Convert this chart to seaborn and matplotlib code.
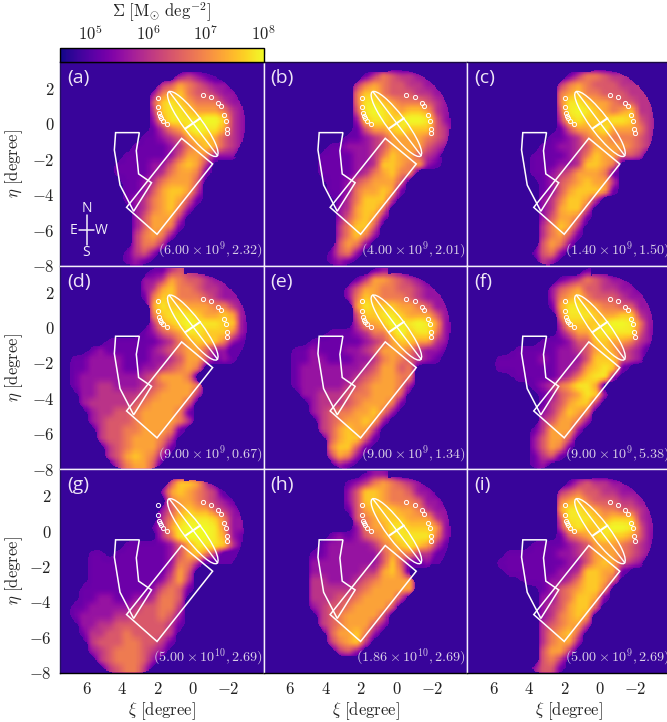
import numpy as np
import pandas as pd
import matplotlib
matplotlib.use("Agg")
import matplotlib.pyplot as plt
from matplotlib.colors import LogNorm
from matplotlib.patches import Ellipse, Polygon
from matplotlib.ticker import LogLocator, NullFormatter
from matplotlib.transforms import Affine2D
import seaborn as sns

# ---- data -----------------------------------------------------------------
# Every row: "<first column> <density levels>", 0.5 degree cells, top row first
panel_a = ["0 0","13 2321","11 346543221","10 25675443221","10 47876555322","10 378876665321","10 268888997321",
 "10 135689886321","9 112346776432","8 1111235676432","7 1111124665222","6 11112246763","6 11112356651",
 "7 112356664","7 112467763","7 123567641","8 2356752","8 246663","8 246651","8 35652","8 3553","7 1342","7 121"]
panel_b = ["0 0","11 13543322","10 356544332 21","10 57754443322","10 588765554321","10 489876776322","10 278878998421",
 "10 146678777431","9 1123466665431","7 11222346666432","6 111122357664 32","6 1111223776562 1","6 1111235675 5",
 "7 112456664","7 112566761","8 1357773","8 236775","8 246762","8 35774","8 35752","8 4652","7 1452","7 121"]
panel_c = ["0 0","11 13554332","10 35654443331","10 56755444333","10 588766544331","10 489876567332","10 378777887432",
 "10 146678666532","9 1123566555431","8 112234666654 3","7 11112357664 43","7 11122377 65","7 1123466651",
 "8 124567663","8 124677761","8 2357763","8 236774","8 246651","8 35763","8 35641","8 4652","7 1452","8 32"]
panel_d = ["10 1134321","9 223654432 21","9 23675543322 1","9 157755543222","10 687766655321","10 578887667622",
 "10 3678988877 21","9 124568877752 1","5 11111 12356777521","3 1211111 234566 42 2","1 112222111 22346641 21","1 112222112 2345 65",
 "1 12222222 346665","1 1223322 2345666 5","2 223333345666 63","2 23333345666 64","3 233 445666651","3 2344456 66653",
 "4 344556665 1","4 34456665 3","5 34566641","5 3467652","6 35664"]
panel_e = ["12 1221","10 136654321","9 24665544322 1","9 25765554322 2","10 687776654221","10 477887666422",
 "10 366798898 621","7 1112355 7978852 1","5 11111123467766 32","3 1121112234666 5322 1","3 11221112 23565 43 21",
 "3 12222222346645","3 1222222345665 5","3 12222234566652","4 2233345566 64","5 23334566 651","5 234556 6752",
 "6 3456 6762","6 346766 3","7 46774 1","7 57741","7 3652","8 21"]
panel_f = ["13 111","10 123543221","9 2456443322 11","9 25675444322 2","9 16887655442 21","10 588876677322",
 "10 377778998522","10 246688888421","8 111244776653 21","5 1111122 34676432","3 1111121222477743 2",
 "3 11111112236787 1","5 11111235788 2","7 1235688 6","8 124568 72","8 134677 3","8 2357 65","8 34 6652",
 "7 136662","7 24664","7 24651","7 1341","7 12"]
panel_g = ["0 0","12 477631","11 2676543","12 5665432 1","11 24676643 2 1","11 357888752 21","10 1368999852 2",
 "11 3589998 621","7 1111124688873 1","3 11 01111112 46753","3 1111111112553","3 1111111113 64","3 1111111124 63",
 "2 111111112 45 41","2 112211 2235 54","1 1 1222223 445 53","1 12222334445 42","2 2233444444 31","2 133445444 43",
 "3 34445544 31","3 2345554 32","4 345554 2","5 34553"]
panel_h = ["11 1221","9 12356543 21","9 24776554221","9 2477655542 21","9 146777665 3221","10 456777666322",
 "10 2566887776 21","7 12124567888852 1","6 122222356787 63 1","5 112222224 6553 31","5 22222222 47 4112",
 "5 2222223 3675","5 3322234 56666","5 333334566666","5 33344566663","5 2344566664","6 34566664","6 345666 42",
 "7 466 752","7 3567 3","8 342","0 0","0 0"]
panel_i = ["0 0","11 13433221","10 345 44332221","10 567 54443322","10 688765544321","10 488876777322",
 "10 378778998422","10 145678776421","7 11112346665432 1","4 1111112 23466654 32","3 111111 11224676432",
 "4 1111112237766 1","6 111223577 64","8 124 567 75","8 224 577 61","8 234 677 4","8 235 676","8 345 6 63",
 "8 35674","8 35662","8 4663","8 453","7 2441"]
panels = [panel_a, panel_b, panel_c, panel_d, panel_e, panel_f, panel_g, panel_h, panel_i]
# radius of the round western shell in every panel, degrees
shell_radius = [2.95, 3.05, 3.05, 3.05, 3.05, 3.0, 2.85, 3.05, 3.0]
panel_tags = list("abcdefghi")
mass_labels = [r"6.00\times10^{9},2.32", r"4.00\times10^{9},2.01", r"1.40\times10^{9},1.50",
               r"9.00\times10^{9},0.67", r"9.00\times10^{9},1.34", r"9.00\times10^{9},5.38",
               r"5.00\times10^{10},2.69", r"1.86\times10^{10},2.69", r"5.00\times10^{9},2.69"]
# log10 Sigma for every density level of the rows above
level_log_sigma = [4.76, 5.2, 5.6, 6.0, 6.45, 6.85, 7.25, 7.6, 7.85, 8.0]

# overlays, degrees
rect_xi  = [0.63, -1.12, 2.02, 3.74]
rect_eta = [-0.81, -2.26, -6.23, -4.71]
ne_xi  = [4.36, 3.02, 3.19, 3.06, 2.33, 3.34, 4.11, 4.43]
ne_eta = [-0.49, -0.49, -1.51, -2.82, -3.32, -4.93, -3.45, -1.47]
gc_xi  = [1.95, 1.97, 1.91, 1.85, 1.78, 1.68, 1.44, -0.56, -1.03, -1.44, -1.57, -1.78, -1.88, -1.93, -1.95]
gc_eta = [1.48, 0.94, 0.60, 0.45, 0.33, 0.18, 0.01, 1.63, 1.50, 1.18, 0.99, 0.48, 0.18, -0.27, -0.53]
disc_major_xi, disc_major_eta = [1.33, -1.40], [1.83, -1.79]
disc_minor_xi, disc_minor_eta = [0.42, -0.42], [-0.26, 0.32]
disc_semi_major, disc_semi_minor, disc_angle = 2.27, 0.52, 53.0

x_ticks = [-2, 0, 2, 4, 6]
y_ticks = [-8, -6, -4, -2, 0, 2]

# ---- style ----------------------------------------------------------------
sns.set_theme(style="ticks")
plt.rcParams["font.family"] = ["DejaVu Serif"]
plt.rcParams["mathtext.fontset"] = "cm"
FS = 12
cmap = sns.color_palette("plasma", as_cmap=True)
norm = LogNorm(vmin=10 ** 4.48, vmax=1e8)
WHITE = "#f4f0fa"
UP = 8          # drawing cells per grid cell
CELL = 0.5


def parse(rows):
    grid = np.zeros((23, 23))
    for j, row in enumerate(rows):
        head, *rest = row.split(" ")
        digits = "".join(rest)
        start = int(head)
        for n, ch in enumerate(digits):
            if start + n < 23:
                grid[j, start + n] = int(ch)
    return grid


def upsample(grid):
    n = 23 * UP
    old = (np.arange(23) + 0.5) / 23
    new = (np.arange(n) + 0.5) / n
    rows = np.array([np.interp(new, old, r) for r in grid])
    return np.array([np.interp(new, old, c) for c in rows.T]).T


def box(fine, width):
    kernel = np.ones(width) / width
    fine = np.apply_along_axis(lambda v: np.convolve(v, kernel, mode="same"), 0, fine)
    return np.apply_along_axis(lambda v: np.convolve(v, kernel, mode="same"), 1, fine)


def refine(grid, radius):
    levels = box(upsample(grid), UP // 2)
    inside = box(box(upsample((grid > 0).astype(float)), UP), UP) > 0.5
    n = 23 * UP
    centres = (np.arange(n) + 0.5) * CELL / UP
    xi, eta = np.meshgrid(7.5 - centres, 3.5 - centres)
    sector = (xi < 0.5) & (eta > -1.9)
    inside = np.where(sector, np.hypot(xi, eta) < radius, inside)
    levels = np.where(inside, np.maximum(levels, 0.9), 0.0)
    return 10 ** np.interp(levels, np.arange(10), level_log_sigma)


W, H = 667, 722
X0, Y0, SIZE = 60.0, 62.0, 203.6
fig = plt.figure(figsize=(W / 100, H / 100), dpi=100)

mesh = None
for n, rows in enumerate(panels):
    col, row = n % 3, n // 3
    left = X0 + col * SIZE
    top = Y0 + row * SIZE
    ax = fig.add_axes([left / W, 1 - (top + SIZE) / H, SIZE / W, SIZE / H])
    frame = pd.DataFrame(refine(parse(rows), shell_radius[n]))
    sns.heatmap(frame, ax=ax, cmap=cmap, norm=norm, cbar=False, xticklabels=False, yticklabels=False)
    mesh = ax.collections[0]
    mesh.set_transform(Affine2D().scale(-CELL / UP, -CELL / UP).translate(7.5, 3.5) + ax.transData)
    ax.set_xlim(7.5, -4)
    ax.set_ylim(-8, 3.5)

    ax.add_patch(Polygon(np.c_[rect_xi, rect_eta], closed=True, fill=False, ec="white", lw=1.1))
    ax.add_patch(Polygon(np.c_[ne_xi, ne_eta], closed=True, fill=False, ec="white", lw=1.1))
    ax.add_patch(Ellipse((0, 0), 2 * disc_semi_major, 2 * disc_semi_minor, angle=disc_angle,
                         fill=False, ec="white", lw=1.0))
    ax.plot(disc_major_xi, disc_major_eta, color="white", lw=1.0)
    ax.plot(disc_minor_xi, disc_minor_eta, color="white", lw=1.5)
    ax.plot(gc_xi, gc_eta, ls="none", marker="o", ms=3.0, mfc="none", mec="white", mew=0.7)

    ax.set_xticks(x_ticks)
    ax.set_yticks(y_ticks)
    ax.set_xticklabels([f"${v}$" for v in x_ticks] if row == 2 else [], fontsize=FS, color="#222222")
    ax.set_yticklabels([f"${v}$" for v in y_ticks] if col == 0 else [], fontsize=FS, color="#222222")
    ax.tick_params(axis="both", which="major", direction="in", top=True, right=True, bottom=True, left=True,
                   length=4.5, width=0.9, color=WHITE, pad=6 if row == 2 else 4,
                   labelbottom=row == 2, labelleft=col == 0)
    for side, spine in ax.spines.items():
        spine.set_visible(True)
        spine.set_linewidth(1.0)
        spine.set_color(WHITE)
    if col == 0:
        ax.spines["left"].set_color("#241060")
    if row == 2:
        ax.spines["bottom"].set_color("black")
    if row == 0:
        ax.spines["top"].set_color("#1a0a40")

    ax.text(0.035, 0.965, f"({panel_tags[n]})", transform=ax.transAxes, ha="left", va="top",
            fontsize=14, color="#eee6f6", family="Open Sans")
    ax.text(0.995, 0.022, f"$({mass_labels[n]})$", transform=ax.transAxes, ha="right", va="bottom",
            fontsize=10.2, color="#d9cfe6")
    if col == 0:
        ax.set_ylabel(r"$\eta\ \mathrm{[degree]}$", fontsize=FS, color="#222222")
        ax.yaxis.set_label_coords(-0.172, 0.5)
    else:
        ax.set_ylabel("")
    if row == 2:
        ax.set_xlabel(r"$\xi\ \mathrm{[degree]}$", fontsize=FS, color="#222222")
        ax.xaxis.set_label_coords(0.5, -0.135)
    else:
        ax.set_xlabel("")
    if n == 0:
        ax.plot([6, 6], [-5.15, -6.85], color=WHITE, lw=1.1)
        ax.plot([6.42, 5.58], [-6, -6], color=WHITE, lw=1.1)
        for label, xi, eta in [("N", 6, -4.77), ("S", 6, -7.26), ("E", 6.75, -6), ("W", 5.17, -6)]:
            ax.text(xi, eta, label, ha="center", va="center", color=WHITE, fontsize=10, family="Open Sans")

# colour bar
cax = fig.add_axes([X0 / W, 1 - 62 / H, SIZE / W, 14 / H])
cb = fig.colorbar(mesh, cax=cax, orientation="horizontal")
cax.xaxis.set_ticks_position("top")
cax.xaxis.set_label_position("top")
cb.set_ticks([1e5, 1e6, 1e7, 1e8])
cb.set_ticklabels([r"$10^{5}$", r"$10^{6}$", r"$10^{7}$", r"$10^{8}$"])
cax.xaxis.set_minor_locator(LogLocator(base=10, subs=np.arange(2, 10), numticks=12))
cax.xaxis.set_minor_formatter(NullFormatter())
cax.tick_params(axis="x", which="major", direction="in", length=4, width=0.8, color="black",
                labelsize=FS, labelcolor="#222222", pad=3)
cax.tick_params(axis="x", which="minor", direction="in", length=2, width=0.6, color="black")
cb.set_label(r"$\Sigma\ [\mathrm{M}_{\odot}\ \mathrm{deg}^{-2}]$", fontsize=FS, color="#222222", labelpad=5)
cb.outline.set_edgecolor("black")
cb.outline.set_linewidth(1.0)

fig.savefig("out.png", dpi=100)
